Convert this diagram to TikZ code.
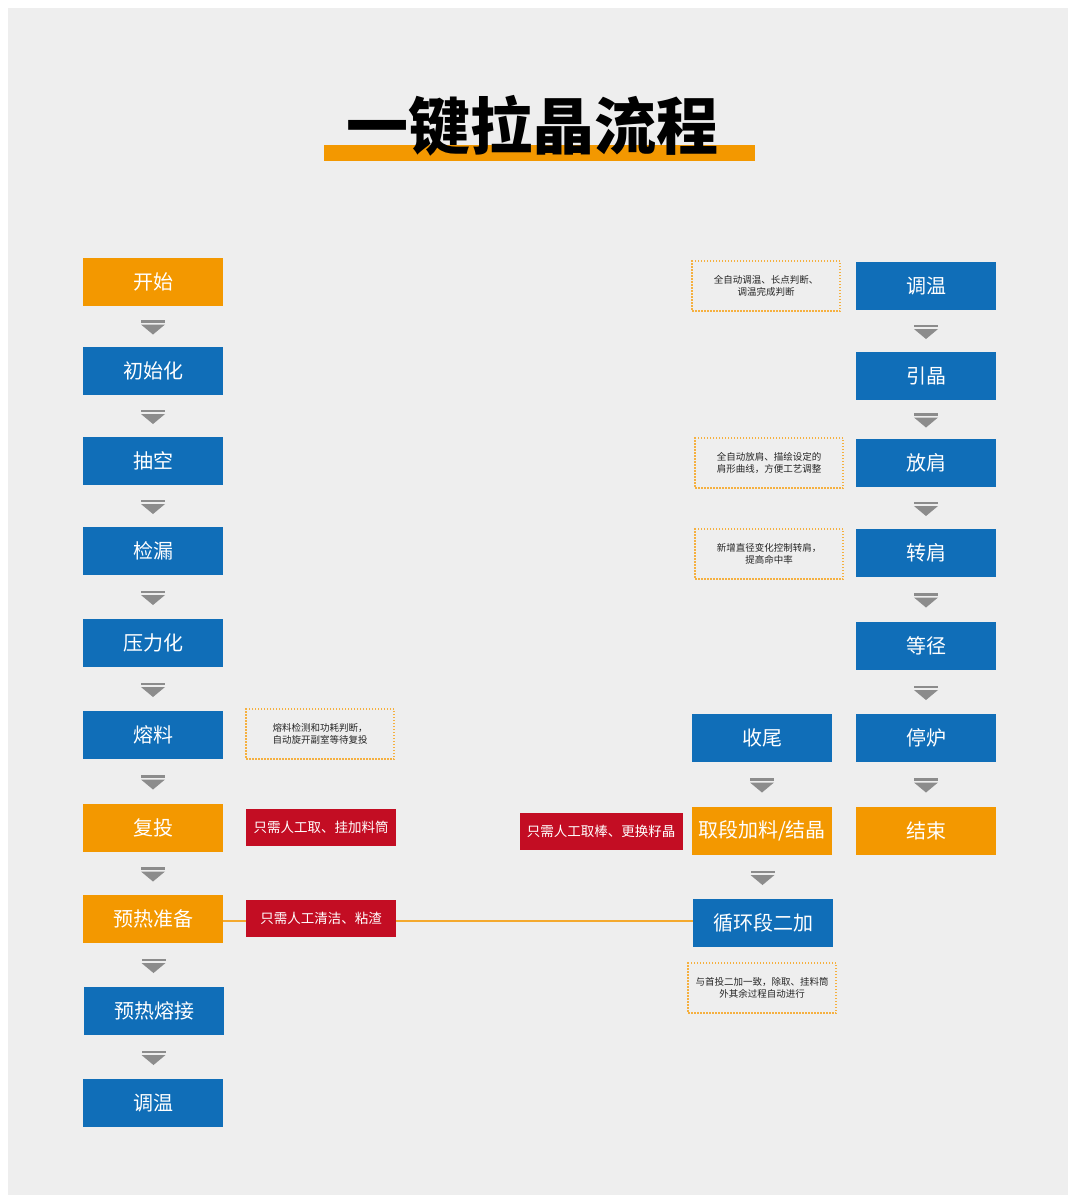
\documentclass[tikz,border=0pt]{standalone}
\usepackage{fontspec}
\setmainfont{Noto Sans CJK SC}
\usetikzlibrary{calc,backgrounds}
\definecolor{kOrange}{HTML}{F39800}
\definecolor{kBlue}{HTML}{106EB8}
\definecolor{kRed}{HTML}{C30D23}
\definecolor{kGray}{HTML}{EEEEEE}
\definecolor{kArrow}{HTML}{8C8C8C}
\definecolor{kDot}{HTML}{F5B040}
\definecolor{kLine}{HTML}{F4A92E}
\tikzset{
  stepbox/.style={fill=kBlue, minimum width=140, minimum height=48, inner sep=0,
    text=white, font=\fontsize{20}{24}\selectfont},
  keybox/.style={stepbox, fill=kOrange},
  handbox/.style={fill=kRed, minimum width=150, minimum height=37, inner sep=0,
    text=white, font=\fontsize{13.5}{16}\selectfont},
  notebox/.style={draw=kDot, line width=1.2pt, dash pattern=on 1.5pt off 1.5pt,
    minimum width=148, minimum height=50, inner sep=0, align=center,
    text=black!85, font=\fontsize{9.5}{12.5}\selectfont},
  downarr/.pic={
    \fill[kArrow] (-12,-6.5) rectangle (12,-4);
    \fill[kArrow] (-12,-2) -- (12,-2) -- (0,8) -- cycle;
  }
}
\begin{document}
\begin{tikzpicture}[x=1pt, y=-1pt]
\useasboundingbox (0,0) rectangle (1080,1203);
% title
\node[font=\fontsize{62}{70}\selectfont\bfseries] (title) at (532,126) {一键拉晶流程};
% left column
\node[keybox]  (kaishi)  at (153,282)  {开始};
\node[stepbox] (chushi)  at (153,371)  {初始化};
\node[stepbox] (choukong) at (153,461) {抽空};
\node[stepbox] (jianlou)  at (153,551) {检漏};
\node[stepbox] (yali)    at (153,643)  {压力化};
\node[stepbox] (rongliao) at (153,735) {熔料};
\node[keybox]  (futou)   at (153,828)  {复投};
\node[keybox]  (yure)    at (153,919)  {预热准备};
\node[stepbox] (rongjie) at (154,1011) {预热熔接};
\node[stepbox] (tiaowenA) at (153,1103) {调温};
% right column
\node[stepbox] (tiaowenB) at (926,286) {调温};
\node[stepbox] (yinjing) at (926,376)  {引晶};
\node[stepbox] (fangjian) at (926,463) {放肩};
\node[stepbox] (zhuanjian) at (926,553) {转肩};
\node[stepbox] (dengjing) at (926,646) {等径};
\node[stepbox] (tinglu)  at (926,738)  {停炉};
\node[keybox]  (jieshu)  at (926,831)  {结束};
% middle column
\node[stepbox] (shouwei) at (762,738)  {收尾};
\node[keybox]  (quduan)  at (762,831)  {取段加料/结晶};
\node[stepbox] (xunhuan) at (763,923)  {循环段二加};
% notes
\node[notebox] (noteA) at (766,286) {全自动调温、长点判断、\\调温完成判断};
\node[notebox] (noteB) at (769,463) {全自动放肩、描绘设定的\\肩形曲线，方便工艺调整};
\node[notebox] (noteC) at (769,554) {新增直径变化控制转肩，\\提高命中率};
\node[notebox] (noteD) at (320,734) {熔料检测和功耗判断，\\自动旋开副室等待复投};
\node[notebox] (noteE) at (762,988) {与首投二加一致，除取、挂料筒\\外其余过程自动进行};
% manual steps
\node[handbox] (handA) at (321,827) {只需人工取、挂加料筒};
\node[handbox] (handB) at (321,918) {只需人工清洁、粘渣};
\node[handbox, minimum width=163] (handC) at (601,831) {只需人工取棒、更换籽晶};
% arrows
\foreach \a/\b in {kaishi/chushi, chushi/choukong, choukong/jianlou, jianlou/yali,
  yali/rongliao, rongliao/futou, futou/yure, yure/rongjie, rongjie/tiaowenA,
  tiaowenB/yinjing, yinjing/fangjian, fangjian/zhuanjian, zhuanjian/dengjing,
  dengjing/tinglu, tinglu/jieshu, shouwei/quduan, quduan/xunhuan}
  \pic at ($(\a.south)!0.5!(\b.north)$) {downarr};
\begin{scope}[on background layer]
\fill[white] (0,0) rectangle (1080,1203);
\fill[kGray] (8,8) rectangle (1068,1195);
\fill[kOrange] (324,145) rectangle (755,161);
\draw[draw=kLine, line width=1.3pt] ([yshift=-2]yure.east) -- ([yshift=-2]yure.east -| xunhuan.west);
\end{scope}
\end{tikzpicture}
\end{document}
